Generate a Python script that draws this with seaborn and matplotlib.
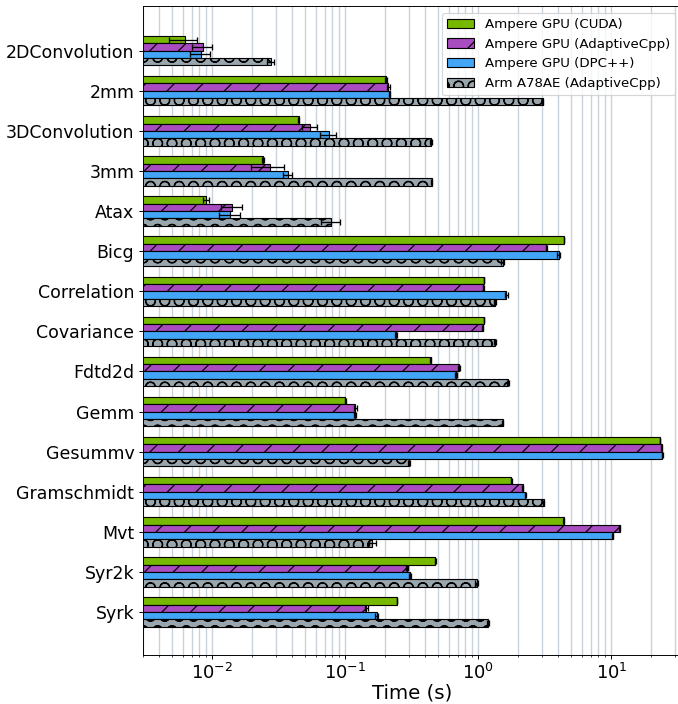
import matplotlib
matplotlib.use("Agg")
import matplotlib.pyplot as plt
import pandas as pd
import seaborn as sns

# benchmarks (top to bottom)
benchmarks = ["2DConvolution", "2mm", "3DConvolution", "3mm", "Atax", "Bicg",
              "Correlation", "Covariance", "Fdtd2d", "Gemm", "Gesummv",
              "Gramschmidt", "Mvt", "Syr2k", "Syrk"]

series = ["Ampere GPU (CUDA)", "Ampere GPU (AdaptiveCpp)",
          "Ampere GPU (DPC++)", "Arm A78AE (AdaptiveCpp)"]

# mean run times (s)
cuda = [0.0062, 0.202, 0.0447, 0.024, 0.0090, 4.41, 1.10, 1.10, 0.438, 0.100,
        23.2, 1.77, 4.38, 0.476, 0.245]
acpp_gpu = [0.0085, 0.211, 0.0546, 0.027, 0.0141, 3.24, 1.09, 1.08, 0.717, 0.119,
            23.9, 2.15, 11.6, 0.293, 0.144]
dpcpp = [0.0082, 0.215, 0.075, 0.0369, 0.0137, 4.03, 1.62, 0.242, 0.68, 0.119,
         24.2, 2.25, 10.2, 0.305, 0.172]
arm = [0.0274, 3.05, 0.44, 0.447, 0.0785, 1.52, 1.33, 1.34, 1.67, 1.52,
       0.30, 3.09, 0.16, 0.97, 1.19]

# standard deviations (s)
cuda_err = [0.0015, 0.004, 0.0005, 0.0003, 0.0005, 0.02, 0.005, 0.005, 0.003, 0.0005,
            0.1, 0.01, 0.02, 0.002, 0.001]
acpp_gpu_err = [0.0014, 0.004, 0.007, 0.0074, 0.0025, 0.03, 0.01, 0.01, 0.015, 0.003,
                0.2, 0.03, 0.1, 0.005, 0.003]
dpcpp_err = [0.0014, 0.003, 0.010, 0.003, 0.0025, 0.1, 0.04, 0.004, 0.01, 0.002,
             0.2, 0.02, 0.1, 0.006, 0.005]
arm_err = [0.0018, 0.02, 0.005, 0.005, 0.013, 0.04, 0.02, 0.02, 0.02, 0.02,
           0.005, 0.05, 0.01, 0.02, 0.02]

colors = ["#76b900", "#a94cc0", "#42a5f5", "#9aa6ad"]
hatches = ["", "/", "", "O"]

values = [cuda, acpp_gpu, dpcpp, arm]
errors = [cuda_err, acpp_gpu_err, dpcpp_err, arm_err]

rows = []
for s, vals in zip(series, values):
    for b, v in zip(benchmarks, vals):
        rows.append({"benchmark": b, "time": v, "config": s})
df = pd.DataFrame(rows)

DPI = 86
fig = plt.figure(figsize=(678 / DPI, 704 / DPI), dpi=DPI)
ax = fig.add_axes([0.2105, 0.0696, 0.7955, 0.9219])
ax.set_xscale("log")

sns.barplot(data=df, x="time", y="benchmark", hue="config", orient="h",
            order=benchmarks, hue_order=series, palette=colors, saturation=1,
            width=0.733, edgecolor="black", linewidth=0.95, errorbar=None,
            legend=False, ax=ax)

bar_groups = list(ax.containers)
for i, cont in enumerate(bar_groups):
    ys, xs = [], []
    for patch in cont:
        patch.set_hatch(hatches[i])
        ys.append(patch.get_y() + patch.get_height() / 2)
        xs.append(patch.get_width())
    ax.errorbar(xs, ys, xerr=errors[i], fmt="none", ecolor="black",
                elinewidth=1.1, capsize=2.9, capthick=1.1)

ax.set_xlim(0.003, 34)
ax.set_ylim(15.07, -1.115)
ax.grid(True, which="both", axis="x", color="#c9d2db", linewidth=1.15)
ax.set_axisbelow(True)

ax.set_xlabel("Time (s)", fontsize=16.5, labelpad=0)
ax.set_ylabel("")
ax.tick_params(axis="y", labelsize=14.5)
ax.tick_params(axis="x", labelsize=15)

ax.legend(bar_groups, series, loc="upper right", fontsize=11.2)

fig.savefig("out.png", dpi=DPI)
